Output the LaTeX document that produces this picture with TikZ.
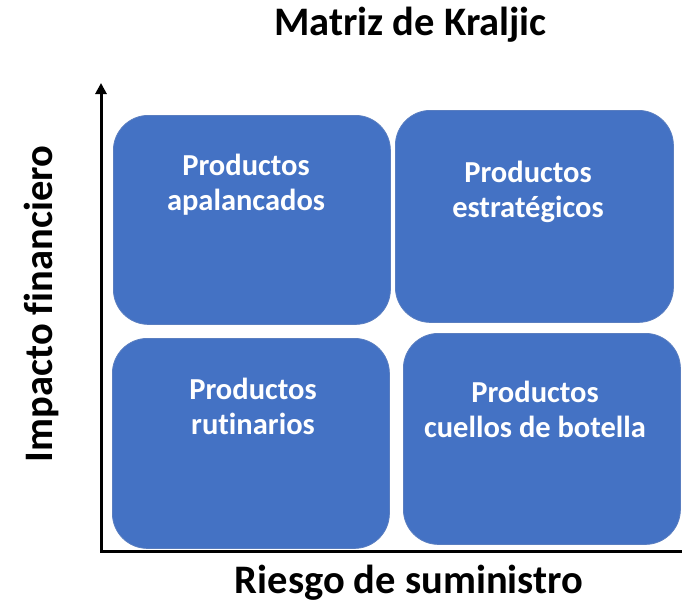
\documentclass[tikz,border=0pt]{standalone}
\usepackage{fontspec}
\setmainfont{Carlito}[Ligatures=NoCommon]
\usetikzlibrary{arrows.meta}
\definecolor{boxblue}{HTML}{4472C4}
\definecolor{boxedge}{HTML}{5A7EC0}
\begin{document}
\begin{tikzpicture}[x=1pt,y=-1pt,
  quad/.style={fill=boxblue, draw=boxedge, line width=0.8pt, rounded corners=35pt, inner sep=0pt, anchor=north west},
  quadtext/.style={text=white, font=\bfseries\fontsize{30.5}{35.5}\selectfont, anchor=base, inner sep=0pt},
  big/.style={font=\bfseries\fontsize{40.5}{48}\selectfont, anchor=base, inner sep=0pt},
  axis/.style={line width=3pt, line join=miter}]
\useasboundingbox (0,0) rectangle (682,603);
% quadrants
\node[quad, minimum width=277pt, minimum height=209pt] (tl) at (113,115) {};
\node[quad, minimum width=278pt, minimum height=212pt] (tr) at (395,110) {};
\node[quad, minimum width=277pt, minimum height=210pt] (bl) at (112,338) {};
\node[quad, minimum width=277pt, minimum height=211pt] (br) at (403,333) {};
% labels
\node[quadtext] (tlt) at (246,175) {\begin{tabular}[t]{@{}c@{}}Productos\\apalancados\end{tabular}};
\node[quadtext] (trt) at (528,182) {\begin{tabular}[t]{@{}c@{}}Productos\\estratégicos\end{tabular}};
\node[quadtext] (blt) at (253,399) {\begin{tabular}[t]{@{}c@{}}Productos\\rutinarios\end{tabular}};
\node[quadtext] (brt) at (535,402) {\begin{tabular}[t]{@{}c@{}}Productos\\cuellos de botella\end{tabular}};
% axes
\coordinate (ytip) at (101,83);
\coordinate (origin) at (101,551.5);
\coordinate (xend) at (684,551.5);
\draw[axis, {Triangle[width=11pt,length=11pt]}-] (ytip) -- (origin) -- (xend);
% titles
\node[big] (title) at (410.5,35) {Matriz de Kraljic};
\node[big] (xlabel) at (409,593.5) {Riesgo de suministro};
\node[big, rotate=90] (ylabel) at (52,304) {Impacto financiero};
\end{tikzpicture}
\end{document}
